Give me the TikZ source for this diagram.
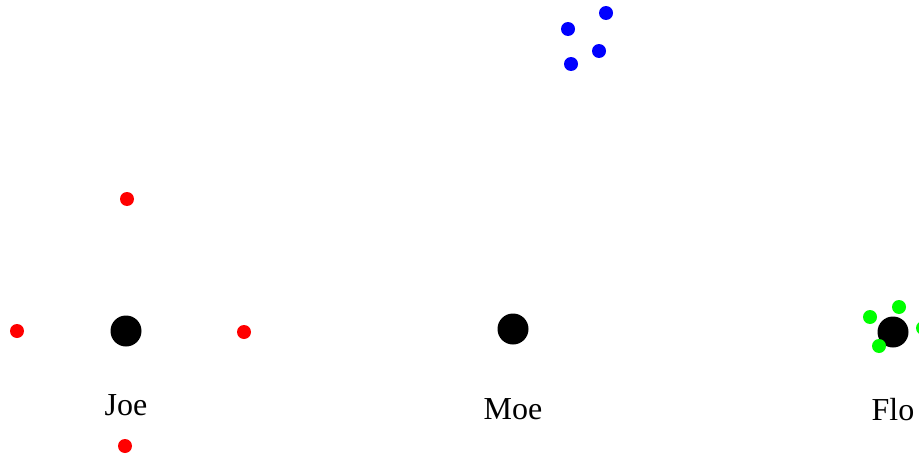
\documentclass[tikz,border=0pt]{standalone}
\usepackage{fontspec}
\setmainfont{Liberation Serif}
\begin{document}
\begin{tikzpicture}[x=1pt,y=-1pt,
  person/.style={circle,fill=black,inner sep=0pt,minimum size=31pt},
  reddot/.style={circle,fill=red,inner sep=0pt,minimum size=14pt},
  bluedot/.style={circle,fill=blue,inner sep=0pt,minimum size=14pt},
  greendot/.style={circle,fill=green,inner sep=0pt,minimum size=14pt},
  lbl/.style={anchor=base,inner sep=0pt,font=\fontsize{32}{38}\selectfont}]
\useasboundingbox (0,0) rectangle (919,455);
\clip (0,0) rectangle (919,455);
\node[person] (joe) at (126,331) {};
\node[person] (moe) at (513,329) {};
\node[person] (flo) at (893,332) {};
\node[lbl] (joel) at (126,415) {Joe};
\node[lbl] (moel) at (513,419) {Moe};
\node[lbl] (flol) at (893,420) {Flo};
\node[reddot] (r1) at (127,199) {};
\node[reddot] (r2) at (17,331) {};
\node[reddot] (r3) at (244,332) {};
\node[reddot] (r4) at (125,446) {};
\node[bluedot] (b1) at (606,13) {};
\node[bluedot] (b2) at (568,29) {};
\node[bluedot] (b3) at (599,51) {};
\node[bluedot] (b4) at (571,64) {};
\node[greendot] (g1) at (870,317) {};
\node[greendot] (g2) at (899,307) {};
\node[greendot] (g3) at (879,346) {};
\node[greendot] (g4) at (923,328) {};
\end{tikzpicture}
\end{document}
